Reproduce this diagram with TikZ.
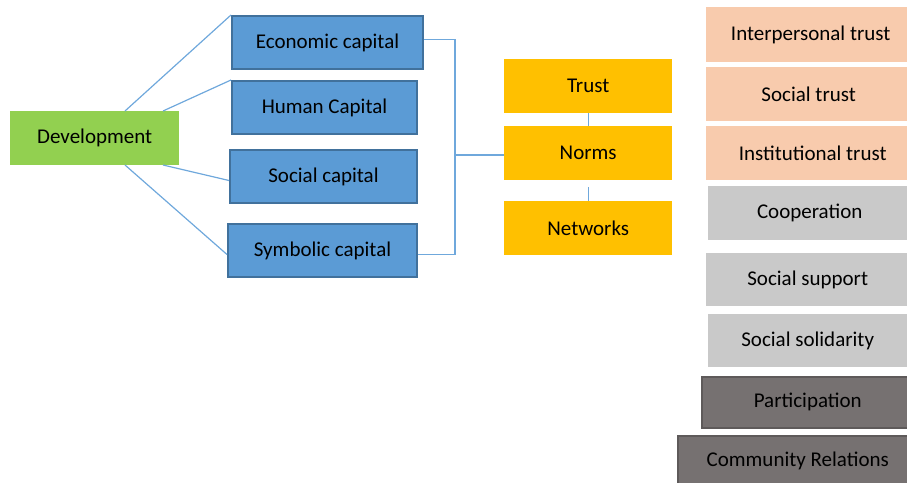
\documentclass[tikz,border=0pt]{standalone}
\usepackage{fontspec}
\setmainfont{Carlito}
\begin{document}
\begin{tikzpicture}[x=1pt,y=-1pt,
  every node/.style={font=\fontsize{21}{24}\selectfont, text=black, inner sep=0pt},
  bluebox/.style={fill=capblue, draw=capborder, line width=2pt},
  greenbox/.style={fill=devgreen},
  orangebox/.style={fill=normorange},
  peachbox/.style={fill=trustpeach},
  graybox/.style={fill=lightgray2},
  darkbox/.style={fill=darkgray2, draw=darkborder, line width=1.5pt},
  conn/.style={draw=linkblue, line width=1.2pt}
]
\definecolor{capblue}{HTML}{5B9BD5}
\definecolor{capborder}{HTML}{41719C}
\definecolor{devgreen}{HTML}{92D050}
\definecolor{normorange}{HTML}{FFC000}
\definecolor{trustpeach}{HTML}{F8CBAD}
\definecolor{lightgray2}{HTML}{C9C9C9}
\definecolor{darkgray2}{HTML}{767171}
\definecolor{darkborder}{HTML}{5E5A5A}
\definecolor{linkblue}{HTML}{6FA8DC}
\useasboundingbox (0,0) rectangle (907,482);
\newcommand{\boxnode}[6]{%
  \node[#1, minimum width={#4-#2}, minimum height={#5-#3}, anchor=north west] (#6) at (#2,#3) {};}
% Development
\boxnode{greenbox}{10}{111}{179}{165}{dev}
\node at (dev.center) {Development};
% capitals
\boxnode{bluebox}{231}{15}{422}{68}{eco}
\node at (eco.center) {Economic capital};
\boxnode{bluebox}{231}{80}{416}{133}{hum}
\node at (hum.center) {Human Capital};
\boxnode{bluebox}{229}{149}{416}{202}{soc}
\node at (soc.center) {Social capital};
\boxnode{bluebox}{227}{223}{416}{276}{sym}
\node at (sym.center) {Symbolic capital};
% orange
\boxnode{orangebox}{504}{59}{672}{113}{trust}
\node at (trust.center) {Trust};
\boxnode{orangebox}{504}{126}{672}{180}{norms}
\node at (norms.center) {Norms};
\boxnode{orangebox}{504}{201}{672}{255}{net}
\node at (net.center) {Networks};
% right column
\boxnode{peachbox}{706}{7}{907}{62}{ip}
\node at ([xshift=4]ip.center) {Interpersonal trust};
\boxnode{peachbox}{706}{67}{907}{121}{st}
\node at ([xshift=2]st.center) {Social trust};
\boxnode{peachbox}{706}{126}{907}{180}{it}
\node at ([xshift=6]it.center) {Institutional trust};
\boxnode{graybox}{708}{186}{907}{240}{coop}
\node at ([xshift=2]coop.center) {Cooperation};
\boxnode{graybox}{706}{253}{907}{306}{ss}
\node at ([xshift=1]ss.center) {Social support};
\boxnode{graybox}{708}{314}{907}{367}{sol}
\node at (sol.center) {Social solidarity};
\boxnode{darkbox}{701}{376}{907}{427}{part}
\node at ([xshift=3]part.center) {Participation};
\boxnode{darkbox}{677}{435}{907}{484}{comm}
\node at ([xshift=5,yshift=-1]comm.center) {Community Relations};
% connectors
\coordinate (d1) at (125,111);
\coordinate (d2) at (163,111);
\coordinate (d3) at (163,165);
\coordinate (d4) at (125,165);
\draw[conn] (d1) -- (eco.north west);
\draw[conn] (d2) -- (hum.north west);
\draw[conn] (d3) -- ([yshift=-4]soc.west);
\draw[conn] (d4) -- ([yshift=-4]sym.west);
\coordinate (bx) at (455,155);
\draw[conn] ([yshift=3]eco.east) -| (bx) |- ([yshift=-4]sym.east);
\draw[conn] (bx) -- (bx -| norms.west);
\draw[conn] (trust.south) -- (norms.north);
\draw[conn] ([yshift=-7]norms.south) -- (net.north);
\end{tikzpicture}
\end{document}
